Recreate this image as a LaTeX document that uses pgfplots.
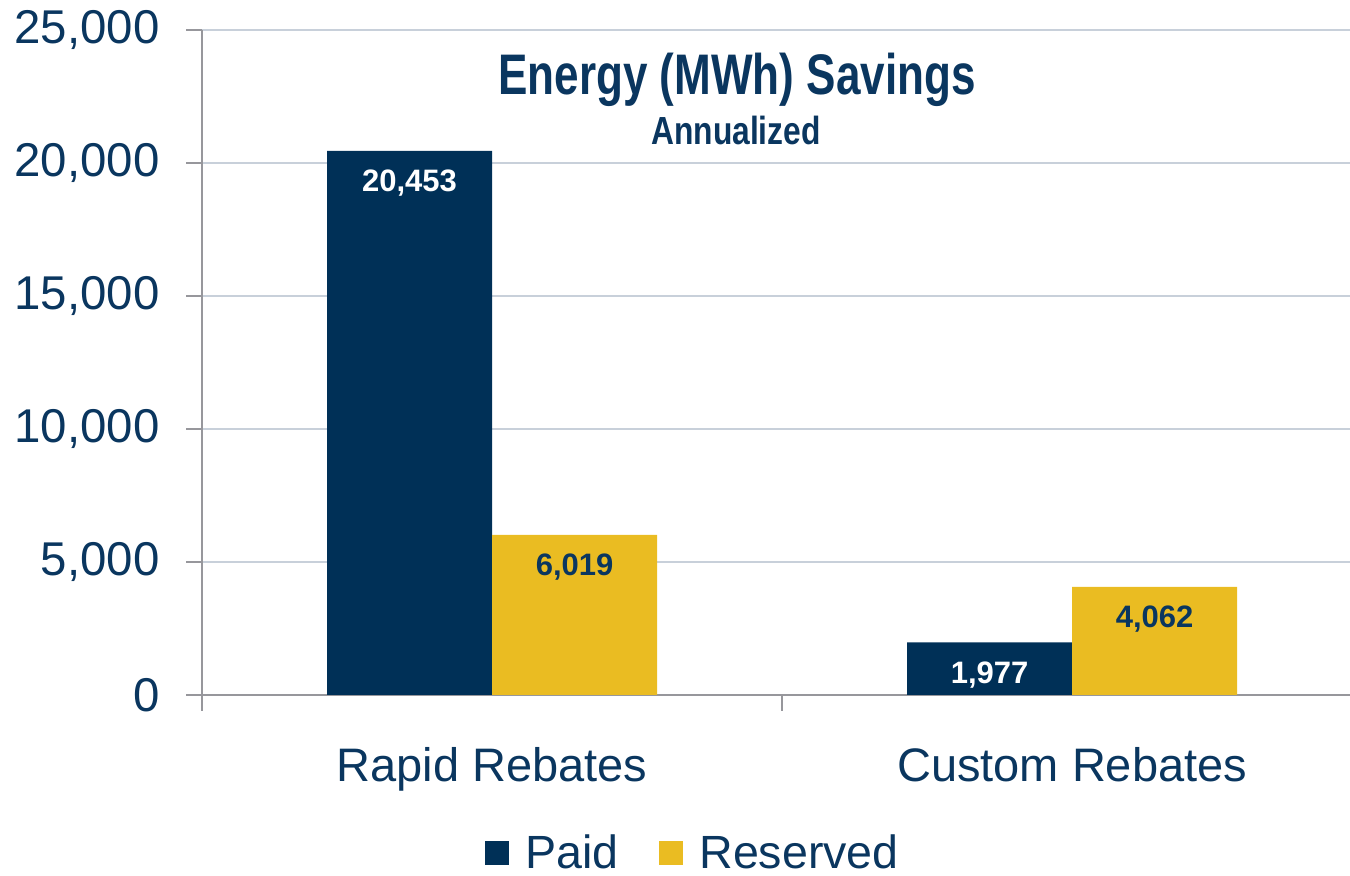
\documentclass[border=0pt]{standalone}
\usepackage{fontspec}
\setmainfont{Liberation Sans}
\usepackage{graphicx}
\usepackage{pgfplots}
\pgfplotsset{compat=1.18}
\definecolor{navy}{HTML}{003057}
\definecolor{gold}{HTML}{EABC22}
\definecolor{txt}{HTML}{0A365F}
\definecolor{gridc}{HTML}{C8D0DA}
\definecolor{axc}{HTML}{97979C}
\begin{document}
\begin{tikzpicture}
\useasboundingbox (0,0) rectangle (675pt,438pt);
\begin{axis}[
  at={(101pt,90.5pt)}, anchor=south west,
  scale only axis, width=574pt, height=332.5pt,
  xmin=-0.5, xmax=1.479, ymin=0, ymax=25000,
  ybar=0pt, bar width=0.2845,
  axis x line*=bottom, axis y line*=left,
  axis line style={draw=axc, line width=1.2pt},
  ymajorgrids, grid style={draw=gridc, line width=1.3pt},
  ytick={0,5000,10000,15000,20000,25000},
  scaled y ticks=false,
  xtick={-0.5,0.5}, xticklabels={,,},
  extra x ticks={0,1},
  extra x tick labels={Rapid Rebates, Custom Rebates},
  extra x tick style={major tick length=0pt, xticklabel style={anchor=north, inner sep=0pt, yshift=-26pt}},
  tick align=outside,
  tick style={draw=axc, line width=1.2pt},
  major tick length=8pt,
  yticklabel style={anchor=east, inner sep=0pt, xshift=-13pt, text=txt, font=\fontsize{23.7}{28}\selectfont},
  xticklabel style={text=txt, font=\fontsize{23.5}{28}\selectfont},
  /pgf/number format/.cd, 1000 sep={,}, assume math mode=true, /pgfplots/.cd,
  nodes near coords,
  nodes near coords style={anchor=north, yshift=-9.5pt, inner sep=0pt, font=\bfseries\fontsize{15.5}{18}\selectfont},
  legend entries={Paid, Reserved},
  legend columns=2,
  legend image code/.code={\fill[#1] (0pt,-6pt) rectangle (12pt,6pt);},
  legend style={at={(0.4268,-0.2376)}, anchor=center, draw=none, fill=none,
    font=\fontsize{23.3}{28}\selectfont, text=txt,
    nodes={inner sep=0pt},
    /tikz/every odd column/.append style={column sep=8pt},
    /tikz/every even column/.append style={column sep=20.5pt}},
]
\addplot[fill=navy, draw=none, every node near coord/.append style={text=white}] coordinates {(0,20453) (1,1977)};
\addplot[fill=gold, draw=none, every node near coord/.append style={text=txt}] coordinates {(0,6019) (1,4062)};
\end{axis}
\node[anchor=base, text=txt, inner sep=0pt] at (368.5pt,390.5pt) {\scalebox{0.77}[1]{\bfseries\fontsize{28.6}{34}\selectfont Energy (MWh) Savings}};
\node[anchor=base, text=txt, inner sep=0pt] at (368pt,365.5pt) {\scalebox{0.81}[1]{\bfseries\fontsize{19.6}{24}\selectfont Annualized}};
\end{tikzpicture}
\end{document}
